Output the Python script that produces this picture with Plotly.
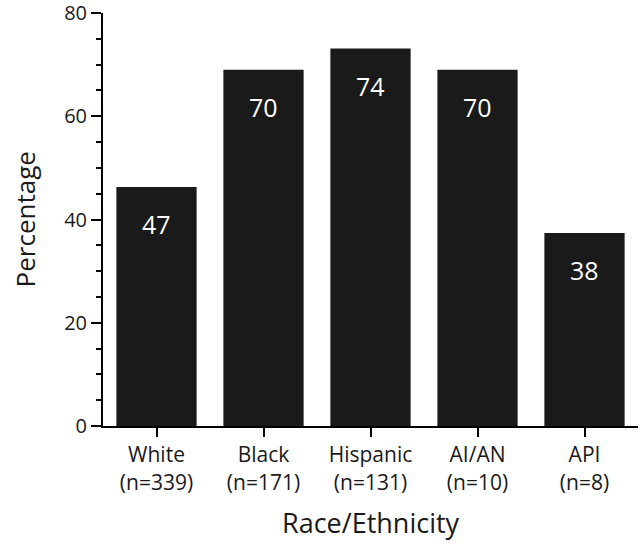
import plotly.graph_objects as go

groups = ['White<br>(n=339)', 'Black<br>(n=171)', 'Hispanic<br>(n=131)', 'AI/AN<br>(n=10)', 'API<br>(n=8)']
heights = [46.3, 69.0, 73.1, 69.0, 37.4]
labels = ['47', '70', '74', '70', '38']

FONT = 'Open Sans, Noto Sans, sans-serif'

fig = go.Figure()
fig.add_trace(go.Bar(
    x=groups,
    y=heights,
    width=0.75,
    marker_color='#1a1a1a',
    marker_line_width=0,
))

# value labels, white, a bit below each bar top
for g, h, t in zip(groups, heights, labels):
    fig.add_annotation(x=g, y=h, text=t, showarrow=False, yanchor='middle',
                       yshift=-37, font=dict(family=FONT, size=25, color='white'))

# axis titles placed by hand
fig.add_annotation(xref='paper', yref='paper', x=0.5, y=-0.234, text='Race/Ethnicity',
                   showarrow=False, yanchor='middle', font=dict(size=27))
fig.add_annotation(xref='paper', yref='paper', x=-0.146, y=0.5, text='Percentage',
                   showarrow=False, textangle=-90, xanchor='center', font=dict(size=26))

fig.update_layout(
    width=640, height=545,
    margin=dict(l=103, r=2, t=13, b=119),
    plot_bgcolor='white', paper_bgcolor='white',
    font=dict(family=FONT, color='#1a1a1a'),
    showlegend=False,
)
fig.update_xaxes(
    range=[-0.5, 4.5], automargin=False,
    showline=True, linecolor='black', linewidth=2,
    ticks='outside', ticklen=9, tickwidth=2, tickcolor='black',
    tickfont=dict(size=21),
    showgrid=False, zeroline=False,
)
fig.update_yaxes(
    range=[0, 80], dtick=20, automargin=False, ticklabeloverflow='allow',
    showline=True, linecolor='black', linewidth=2,
    ticks='outside', ticklen=10, tickwidth=2, tickcolor='black',
    minor=dict(dtick=5, ticks='outside', ticklen=5, tickwidth=1.5, tickcolor='black', showgrid=False),
    tickfont=dict(size=20),
    showgrid=False, zeroline=False,
)

# drop the default page margin so the chart sits at the window's corner
fig.write_html('out.html', config={'displayModeBar': False},
               post_script="document.body.style.margin='0';")
